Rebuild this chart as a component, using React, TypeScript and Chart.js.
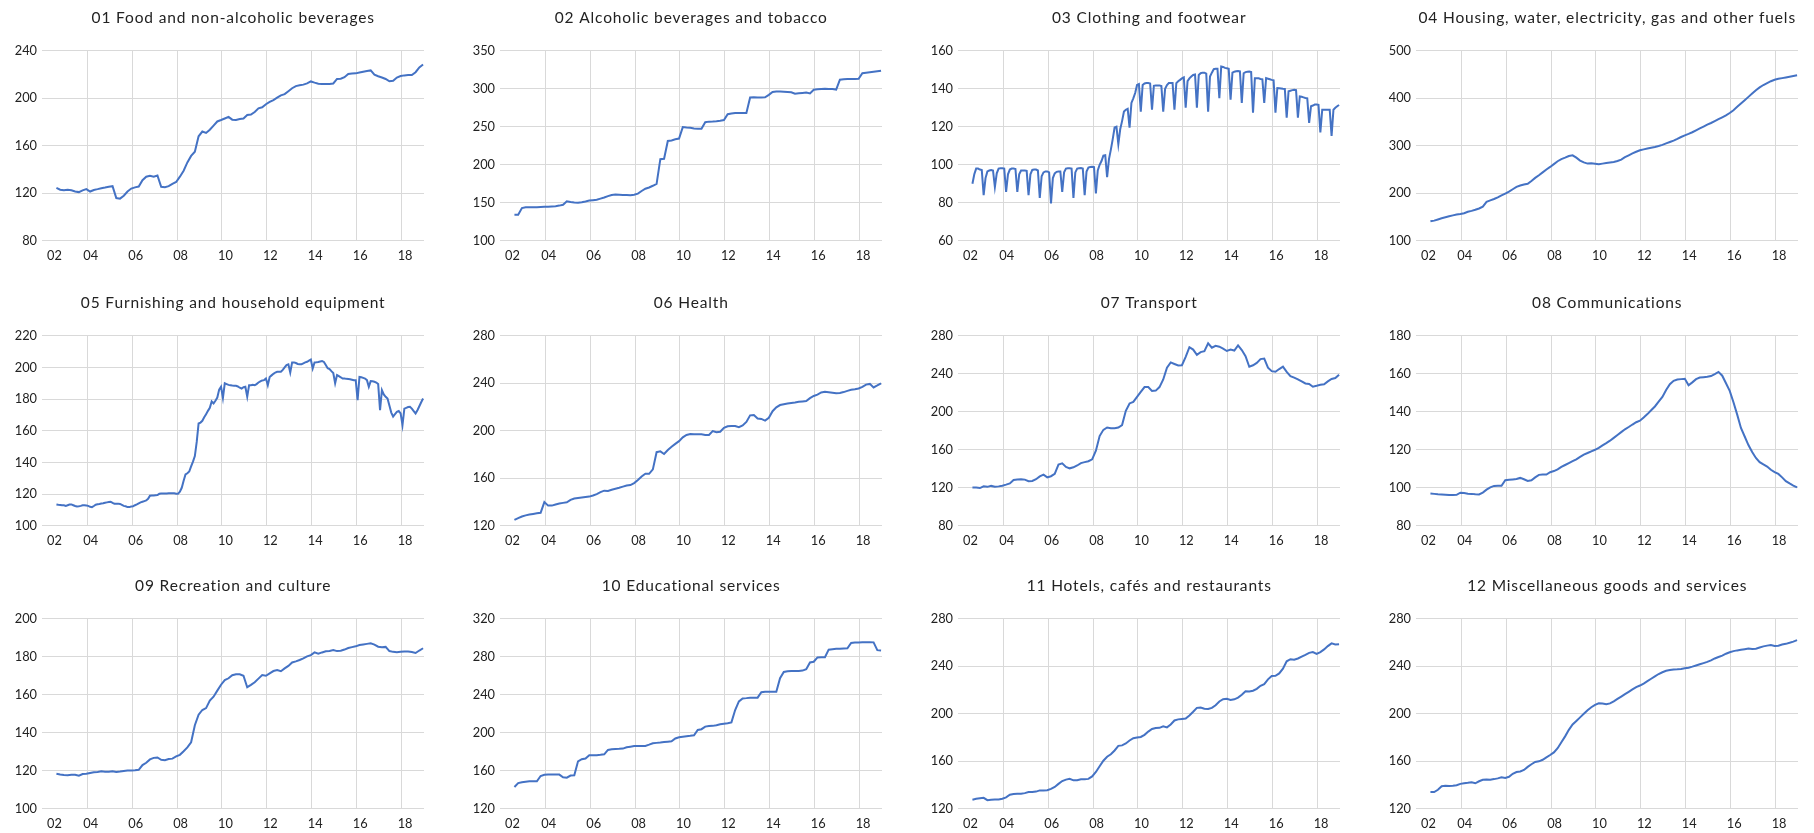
import { useEffect, useRef } from "react";
import { Chart, registerables } from "chart.js";

Chart.register(...registerables);

// x positions are months counted from Jan 2002 (= 0); each point sits mid-month
const FIRST_MONTH = 7;
const X_MAX = 204;
const yearTickMonths = [4.6, 24, 48, 72, 96, 120, 144, 168, 192];
const yearTickLabels = ["02", "04", "06", "08", "10", "12", "14", "16", "18"];

const titles = [
  "01 Food and non-alcoholic beverages",
  "02 Alcoholic beverages and tobacco",
  "03 Clothing and footwear",
  "04 Housing, water, electricity, gas and other fuels",
  "05 Furnishing and household equipment",
  "06 Health",
  "07 Transport",
  "08 Communications",
  "09 Recreation and culture",
  "10 Educational services",
  "11 Hotels, cafés and restaurants",
  "12 Miscellaneous goods and services",
];

const yMins = [80, 100, 60, 100, 100, 120, 80, 80, 100, 120, 120, 120];
const yMaxs = [240, 350, 160, 500, 220, 280, 280, 180, 200, 320, 280, 280];
const ySteps = [40, 50, 20, 100, 20, 40, 40, 20, 20, 40, 40, 40];

// bimonthly readings (every 2nd month)
const food = [
  124.5, 123, 122.5, 123, 122.5, 121.5, 121, 122.5, 123.5, 121.5,
  122.8, 123.5, 124.3, 124.8, 125.5, 126, 116, 115.5, 118, 121.5,
  124, 125, 125.7, 131, 134, 134.7, 134, 135, 125.5, 125.2,
  126, 128, 129.5, 134, 139, 146, 151.5, 155, 168, 172,
  170.8, 173.5, 177, 180.5, 181.7, 183, 184.3, 182, 181.7, 182.5,
  183, 186, 186.3, 188.5, 191.5, 192.4, 195, 197, 198.5, 200.5,
  202.5, 203.5, 206, 208.5, 210.3, 211, 211.5, 212.6, 214.2, 213.2,
  212.3, 212, 212, 212, 212.5, 216.3, 216.5, 217.8, 220.5, 220.8,
  221, 221.7, 222.4, 223, 223.5, 220, 218.6, 217.5, 216.3, 214.3,
  214.8, 217.5, 218.8, 219.3, 219.6, 219.6, 222, 226, 228.5,
];

const alcohol = [
  134.3, 134.3, 143, 144, 144.1, 144.2, 144.3, 144.5, 144.7, 144.9,
  145.2, 145.5, 146.3, 147.4, 152, 151, 150.3, 150.2, 150.8, 151.8,
  153, 153.5, 154, 155.5, 157, 158.8, 160.3, 161, 160.7, 160.4,
  160.2, 160, 160.5, 162, 165.5, 168.5, 170.2, 172.4, 174.8, 207.4,
  208, 231.3, 232, 233.5, 234.5, 249.6, 249, 248.6, 247.8, 247.3,
  247.4, 256, 256.8, 257, 257.4, 258, 258.8, 266.5, 267.5, 268.2,
  268.3, 268.3, 268.3, 288.5, 289, 288.7, 288.7, 288.8, 292, 295.7,
  296.3, 296.5, 296.2, 295.8, 295.4, 293.5, 294, 294.5, 295, 294,
  298.8, 299.3, 299.8, 300, 299.9, 299.6, 299, 312, 312.6, 313,
  313, 313, 313.2, 320.4, 321, 321.7, 322.3, 323, 323.8,
];

// monthly readings
const clothing = [
  90, 95, 98, 98, 97.5, 97.2,
  84, 93, 96.5, 97, 97.2, 97,
  88.3, 95.5, 98, 98.2, 98.2, 98,
  85.7, 95, 97.5, 98, 98, 97.8,
  85.7, 95, 97, 97, 97, 96.8,
  84, 95, 97.3, 97.5, 97.5, 97,
  82.6, 94, 96, 96.5, 96.5, 96,
  79.7, 93, 95.5, 96.3, 96.5, 96.5,
  85.7, 96, 98, 98.2, 98.2, 98,
  82.6, 96, 98, 98.2, 98.3, 98,
  84, 96.5, 98.5, 98.8, 99, 98.8,
  84.9, 97, 100, 102, 104.8, 105,
  93.5, 103, 108, 113.5, 119.6, 120,
  110.9, 118.7, 123, 128, 129, 129.5,
  119.6, 132.6, 135, 137.8, 142, 142.5,
  128, 142, 142.8, 143, 143, 142.8,
  129, 141.6, 141.8, 141.8, 141.8, 141.5,
  128, 140, 142, 143, 143, 143,
  129, 143, 144, 144.7, 145.5, 146,
  130, 144, 145.5, 146.5, 147.3, 147.5,
  130, 147.3, 148.2, 148.5, 148.5, 148,
  128, 146.5, 148.5, 150.3, 150.5, 150.5,
  135, 151.7, 151.5, 151, 150.8, 150.5,
  134.3, 148.5, 149, 149.2, 149.4, 149.2,
  132.6, 148.2, 148.8, 149, 149.1, 148.8,
  127.4, 145.6, 145.6, 145.5, 145.2, 145,
  132.6, 145.6, 145.3, 145, 144.7, 144.5,
  127.4, 140.4, 140.3, 140.2, 140, 139.9,
  124.8, 138.7, 139, 139.3, 139.5, 139.3,
  124.8, 136, 135.8, 135.5, 135.2, 135,
  122, 130.8, 131.2, 131.7, 131.7, 131.5,
  117, 129, 129, 129, 129, 129,
  115.2, 129, 130, 130.8, 131.5,
];

const housing = [
  141, 142.5, 145, 147.5, 149.5, 151.5, 153.5, 155.3, 156.5, 158,
  161, 163, 165.3, 168, 172, 182, 185, 188, 191.5, 195.5,
  199.5, 203.5, 208.5, 213.5, 216.5, 218.5, 220, 226, 232.5, 238,
  244, 250, 255.5, 261.5, 267.5, 272, 275, 278.5, 280, 275,
  269, 265, 262.5, 263, 262, 261, 262.5, 264, 265, 266,
  268, 271, 276, 280, 284, 287.5, 290.5, 292.5, 294.5, 296,
  297.5, 299.5, 302, 305, 308, 311, 314.5, 318.5, 322, 325,
  328.5, 332.5, 336.5, 340.5, 344.5, 348, 352, 356, 360, 364,
  369, 375, 382, 389, 396, 403, 410, 417, 423, 428,
  432, 436, 439, 441, 442.5, 444, 445.5, 447, 448.5,
];

const furnishing = [
  113.5, 113.3, 113.2, 113, 113, 112.6, 113, 113.4, 113.5, 113,
  112.5, 112.2, 112.3, 112.6, 113, 113, 112.8, 112.6, 112, 111.8,
  112.5, 113.3, 113.6, 113.8, 114.1, 114.3, 114.6, 114.8, 115, 115.2,
  114.5, 114, 114, 114, 113.8, 113.2, 112.6, 112.3, 111.8, 111.8,
  112.2, 112.4, 113, 113.5, 114.2, 114.8, 115.2, 115.6, 116, 117,
  119, 119.2, 119.2, 119.3, 119.4, 120.2, 120.4, 120.4, 120.4, 120.4,
  120.5, 120.6, 120.6, 120.6, 120.3, 120.2, 121.5, 124, 128.5, 132.4,
  133.2, 134.3, 137.5, 140.5, 144, 153, 164.6, 165.2, 166.3, 168.5,
  170.5, 172.6, 174.5, 178.5, 177.3, 179, 181, 186, 187.8, 180.8,
  190, 189.5, 189, 188.8, 188.6, 188.5, 188.4, 188, 187.2, 186.7,
  187.5, 187.8, 181.5, 188.8, 188.8, 189, 188.8, 189.5, 190.5, 191.2,
  191.8, 192, 193, 188.8, 194, 195, 196, 196.8, 197.3, 197.3,
  197.3, 198.5, 200, 201.5, 202, 196.8, 203.2, 203.2, 202.8, 202.2,
  202, 202, 202.6, 203.2, 203.6, 204.3, 205, 199.4, 203.2, 203.3,
  203.5, 203.8, 204, 203.5, 201.5, 199.5, 199, 197.7, 196.5, 190,
  195.2, 194.5, 193.8, 193, 193, 192.8, 192.7, 192.6, 192.3, 192,
  192, 179.4, 194, 193.8, 193.4, 193, 192, 187.8, 191.4, 191.3,
  191, 190.5, 189.5, 173, 185.7, 183, 181.5, 180.4, 176, 171.5,
  169, 170.5, 172, 172.5, 171, 163.6, 174, 174.5, 175, 175.2,
  174, 172.5, 171, 173, 175.5, 178, 180.4,
];

const health = [
  125, 126.5, 127.8, 128.8, 129.5, 130, 130.5, 131, 140, 137,
  137, 138, 138.8, 139.3, 139.8, 141.8, 143, 143.4, 143.8, 144.2,
  144.6, 145.5, 146.7, 148.3, 149.6, 149.4, 150.4, 151.2, 152, 153,
  154, 154.3, 156, 158.5, 161.5, 163.8, 163.8, 167.5, 182, 182.7,
  180.5, 183.8, 186.5, 189, 191.3, 194.5, 196.5, 197.3, 197.1, 197,
  197, 196.5, 196.5, 199.8, 198.8, 199.2, 202.5, 203.8, 204, 204,
  203, 204.5, 207.5, 213, 213.3, 210.4, 210, 208.6, 211, 216.5,
  219.8, 221.7, 222.4, 223, 223.5, 223.8, 224.4, 224.7, 225, 227.5,
  229.3, 230.5, 232.3, 232.8, 232.4, 232, 231.6, 231.8, 232.6, 233.6,
  234.5, 235, 235.6, 237, 238.9, 239.5, 236.5, 238.2, 240,
];

const transport = [
  120.3, 120.3, 119.7, 121.5, 121, 122, 121.2, 121.5, 122.2, 123.3,
  124.6, 128.2, 128.8, 129, 128.6, 127, 127.2, 129, 132, 133.8,
  131, 132.2, 134.7, 144.5, 145.8, 142, 140.5, 141.6, 143.5, 146,
  147, 148, 150, 159, 174.5, 181, 183.5, 182.8, 182.8, 183.5,
  186, 201, 208.8, 210.5, 215.8, 221, 226, 226, 222, 222.3,
  226, 234, 246.5, 252, 250.3, 248.7, 249, 257.9, 268, 265.5,
  260, 262.8, 263.9, 272, 267.5, 269.5, 268.5, 266.5, 264, 265.5,
  264.5, 270, 265, 258.5, 247.4, 249, 251.5, 255.5, 256, 246.5,
  242.8, 242.1, 245, 247.5, 242, 237.5, 236, 234.2, 232, 229.8,
  229.3, 226.4, 227.4, 228.5, 229, 232, 234.5, 235.5, 239,
];

const communications = [
  97, 96.8, 96.6, 96.5, 96.4, 96.2, 96.2, 96.3, 97.4, 97.3,
  96.9, 96.8, 96.6, 96.5, 97.5, 99, 100.2, 101, 101.1, 101.1,
  104, 104.2, 104.4, 104.6, 105.2, 104.5, 103.6, 104, 105.5, 106.8,
  107, 107, 108.2, 108.8, 109.7, 111, 112, 113, 114, 115,
  116.3, 117.5, 118.3, 119.2, 120, 121, 122.3, 123.5, 124.8, 126.3,
  127.8, 129.3, 130.8, 132, 133.3, 134.5, 135.3, 137, 138.8, 140.8,
  142.8, 145.3, 147.8, 151.5, 154.5, 156.3, 157, 157.2, 157.4, 154,
  155.5, 157.2, 158, 158.2, 158.4, 158.8, 159.8, 161, 159, 155,
  151, 145, 138.5, 131.5, 127, 122.5, 118.8, 115.7, 113.5, 112.3,
  111.2, 109.5, 108.3, 107.3, 105.5, 103.5, 102.3, 101.2, 100.2,
];

const recreation = [
  118.5, 118.1, 117.8, 117.7, 117.9, 117.9, 117.4, 118.3, 118.4, 118.8,
  119.2, 119.4, 119.7, 119.5, 119.5, 119.7, 119.4, 119.6, 119.9, 120.1,
  120.2, 120.3, 120.5, 123, 124.2, 126, 126.8, 127, 125.8, 125.6,
  126.2, 126.4, 127.6, 128.4, 130.3, 132.3, 135, 144, 149.5, 152,
  153, 157, 159, 162.2, 165.3, 167.7, 168.7, 170.3, 170.8, 170.8,
  170, 164, 165.2, 166.6, 168.5, 170.4, 170, 171.3, 172.5, 173,
  172.4, 173.9, 175.2, 177, 177.6, 178.3, 179.2, 180.2, 180.9, 182.3,
  181.6, 182.3, 182.9, 183.1, 183.6, 183, 183.2, 183.8, 184.6, 185.1,
  185.5, 186.2, 186.5, 186.8, 187.1, 186.4, 185.3, 185, 185.2, 183,
  182.6, 182.4, 182.6, 182.8, 182.8, 182.5, 182, 183.3, 184.5,
];

const education = [
  143, 147, 148, 148.5, 148.9, 148.9, 149, 154.5, 155.8, 156,
  156, 156, 156, 153.2, 152.8, 155, 155.3, 170, 172.2, 173,
  176.4, 176.4, 176.4, 176.8, 177.3, 182, 182.7, 182.9, 183.1, 183.4,
  184.8, 185.4, 186, 186.2, 186.2, 186.2, 187.5, 189, 189.4, 189.8,
  190.3, 190.7, 191, 194, 195.3, 195.9, 196.4, 196.8, 197.4, 203,
  203.8, 206.5, 207.1, 207.3, 208, 209, 209.5, 210, 211, 224,
  233, 236.2, 236.5, 236.9, 236.9, 237, 242.8, 243.2, 243.3, 243.3,
  243.3, 257.5, 264, 264.8, 265.1, 265.1, 265.1, 265.5, 267, 274,
  274.8, 279.3, 279.5, 279.5, 287.5, 288, 288.4, 288.6, 288.8, 289,
  294.5, 295, 295.1, 295.2, 295.3, 295.4, 295.2, 287, 286.6,
];

const hotels = [
  127.6, 128.4, 128.9, 129.2, 127.3, 127.6, 127.9, 127.9, 128.5, 129.6,
  131.8, 132.4, 132.7, 132.7, 133.2, 134.1, 134.1, 134.5, 135.5, 135.5,
  135.6, 136.8, 138.4, 141, 143.4, 144.6, 145.3, 144, 144, 144.8,
  144.8, 145.2, 147.3, 151, 155.8, 160.5, 163.8, 165.9, 169.1, 173,
  173.4, 175, 177.5, 179.5, 180, 180.5, 182.3, 185, 187.2, 188,
  188.2, 189.5, 188.6, 191, 194.4, 195.3, 195.7, 196, 198.6, 201.7,
  205, 205.3, 204.3, 204, 205, 207.2, 210.4, 212.3, 212.6, 211.7,
  212.2, 213.6, 216, 219, 218.8, 219.4, 221, 223.6, 225, 229,
  231.8, 232, 234, 238, 244.2, 246, 245.5, 246.6, 248.2, 249.7,
  251.3, 252, 250.5, 252, 254.2, 257, 259.3, 258.4, 258.6,
];

const misc = [
  134.1, 134.1, 136, 139, 139.5, 139.2, 139.4, 139.8, 141, 141.5,
  141.9, 142.4, 141.5, 143.2, 144.4, 144.7, 144.5, 145, 145.6, 146.5,
  146, 147, 149.5, 151, 151.4, 152.7, 155.3, 157.5, 159.5, 160,
  161.3, 163.3, 165.3, 167.5, 171, 176, 181, 186.5, 191, 194,
  197, 200, 203, 205.5, 207.5, 208.8, 208.6, 208, 208.8, 210.5,
  212.5, 214.5, 216.5, 218.5, 220.5, 222.5, 223.8, 225.5, 227.5, 229.5,
  231.5, 233.5, 235, 236.2, 236.8, 237.3, 237.5, 237.8, 238.3, 238.8,
  239.7, 240.7, 241.7, 242.7, 243.7, 245, 246.6, 247.8, 249, 250.6,
  251.8, 252.8, 253.4, 253.9, 254.4, 254.9, 254.6, 254.8, 255.8, 256.8,
  257.4, 258, 257.2, 257.3, 258.3, 258.9, 259.8, 260.8, 262,
];

const seriesValues = [
  food, alcohol, clothing, housing, furnishing, health,
  transport, communications, recreation, education, hotels, misc,
];
const seriesMonthStep = [2, 2, 1, 2, 1, 2, 2, 2, 2, 2, 2, 2];

// layout
const COL_LEFT = [0, 458.1, 916.2, 1374.3];
const ROW_TOP = [0, 285, 568];
const CANVAS_W = 436;
const CANVAS_H = 262;
const TEXT_COLOR = "#222222";
const GRID_COLOR = "#d9d9d9";
const LINE_COLOR = "#4472C4";
const FONT_FAMILY = "Lato, 'Open Sans', sans-serif";

function Panel({ idx }: { idx: number }) {
  const ref = useRef<HTMLCanvasElement | null>(null);

  useEffect(() => {
    if (!ref.current) return;
    const values = seriesValues[idx];
    const step = seriesMonthStep[idx];
    const points = values.map((v, i) => ({ x: FIRST_MONTH + i * step + 0.5, y: v }));
    const title = titles[idx];

    const titlePlugin = {
      id: "panelTitle" + idx,
      afterDraw(chart: any) {
        const { ctx, chartArea } = chart;
        ctx.save();
        ctx.font = "15.5px " + FONT_FAMILY;
        ctx.fillStyle = TEXT_COLOR;
        ctx.textAlign = "center";
        ctx.textBaseline = "alphabetic";
        if ("letterSpacing" in ctx) (ctx as any).letterSpacing = "0.85px";
        ctx.fillText(title, (chartArea.left + chartArea.right) / 2, 22.7);
        ctx.restore();
      },
    };

    const chart = new Chart(ref.current, {
      type: "line",
      data: {
        datasets: [
          {
            data: points,
            borderColor: LINE_COLOR,
            borderWidth: 2,
            pointRadius: 0,
            tension: 0,
            fill: false,
          },
        ],
      },
      options: {
        animation: false,
        responsive: false,
        maintainAspectRatio: false,
        events: [],
        layout: { padding: { top: 50.8, right: 12, bottom: 0, left: 0 } },
        plugins: {
          legend: { display: false },
          tooltip: { enabled: false },
          title: { display: false },
        },
        scales: {
          x: {
            type: "linear",
            min: 0,
            max: X_MAX,
            afterBuildTicks: (s: any) => {
              s.ticks = yearTickMonths.map((v) => ({ value: v }));
            },
            afterFit: (s: any) => {
              s.height = CANVAS_H - 240.8;
            },
            border: { display: false },
            grid: {
              drawTicks: false,
              lineWidth: 1,
              color: (c: any) => (c.index === 0 ? "rgba(0,0,0,0)" : GRID_COLOR),
            },
            ticks: {
              autoSkip: false,
              maxRotation: 0,
              minRotation: 0,
              labelOffset: 3.5,
              padding: 7,
              color: TEXT_COLOR,
              font: { family: FONT_FAMILY, size: 12.8 },
              callback: (_v: any, i: number) => yearTickLabels[i],
            },
          },
          y: {
            min: yMins[idx],
            max: yMaxs[idx],
            afterFit: (s: any) => {
              s.width = 42.4;
            },
            border: { display: false },
            grid: { drawTicks: false, lineWidth: 1, color: GRID_COLOR },
            ticks: {
              stepSize: ySteps[idx],
              padding: 5.4,
              color: TEXT_COLOR,
              font: { family: FONT_FAMILY, size: 12.8 },
            },
          },
        },
      },
      plugins: [titlePlugin],
    } as any);

    return () => chart.destroy();
  }, [idx]);

  const col = idx % 4;
  const row = Math.floor(idx / 4);
  return (
    <canvas
      ref={ref}
      width={CANVAS_W}
      height={CANVAS_H}
      style={{
        position: "absolute",
        left: COL_LEFT[col],
        top: ROW_TOP[row],
        width: CANVAS_W,
        height: CANVAS_H,
      }}
    />
  );
}

export default function App() {
  return (
    <div
      style={{
        position: "absolute",
        left: 0,
        top: 0,
        width: 1814,
        height: 833,
        background: "#ffffff",
        overflow: "hidden",
      }}
    >
      {titles.map((_, i) => (
        <Panel key={i} idx={i} />
      ))}
    </div>
  );
}
